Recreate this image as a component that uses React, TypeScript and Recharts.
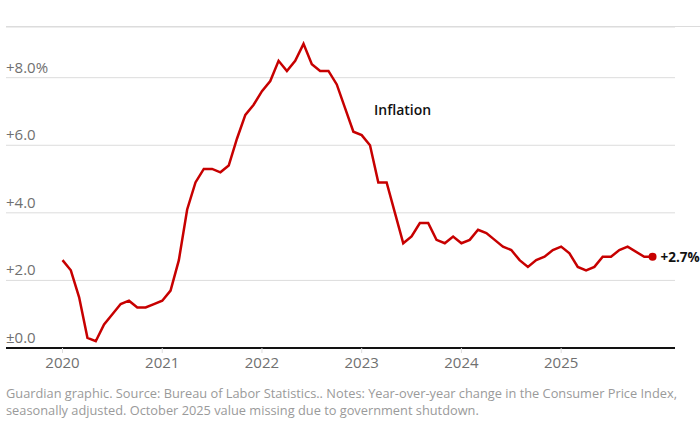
import React from 'react';
import { LineChart, Line, XAxis, YAxis, CartesianGrid } from 'recharts';

// year-over-year CPI change, monthly, Jan 2020 - Dec 2025 (Oct 2025 missing)
const years = ['2020', '2021', '2022', '2023', '2024', '2025'];
const infl2020 = [2.6, 2.3, 1.5, 0.3, 0.2, 0.7, 1.0, 1.3, 1.4, 1.2, 1.2, 1.3];
const infl2021 = [1.4, 1.7, 2.6, 4.1, 4.9, 5.3, 5.3, 5.2, 5.4, 6.2, 6.9, 7.2];
const infl2022 = [7.6, 7.9, 8.5, 8.2, 8.5, 9.0, 8.4, 8.2, 8.2, 7.8, 7.1, 6.4];
const infl2023 = [6.3, 6.0, 4.9, 4.9, 4.0, 3.1, 3.3, 3.7, 3.7, 3.2, 3.1, 3.3];
const infl2024 = [3.1, 3.2, 3.5, 3.4, 3.2, 3.0, 2.9, 2.6, 2.4, 2.6, 2.7, 2.9];
const infl2025 = [3.0, 2.8, 2.4, 2.3, 2.4, 2.7, 2.7, 2.9, 3.0, null, 2.7, 2.7];

const yTicks = [0, 2, 4, 6, 8];
const yearTicks = [0, 12, 24, 36, 48, 60];

const data = [infl2020, infl2021, infl2022, infl2023, infl2024, infl2025]
  .flat()
  .map((v, i) => ({ i, value: v }));

const lastIdx = data.length - 1;
const RED = '#c70000';
const FONT = '"Open Sans", "Noto Sans", sans-serif';

const fmtY = (v: number) => (v === 0 ? '±0.0' : v === 8 ? '+8.0%' : `+${v.toFixed(1)}`);

const renderYTick = (props: any) => {
  const { y, payload } = props;
  return (
    <text key={`yt${payload.value}`} x={6} y={y - 5} fill="#707070" fontSize={15} fontFamily={FONT} textAnchor="start">
      {fmtY(payload.value)}
    </text>
  );
};

const EndDot = (props: any) => {
  const { cx, cy, index, payload } = props;
  if (index !== lastIdx || cx == null) return <g key={`d${index}`} />;
  return (
    <g key={`d${index}`}>
      <circle cx={cx} cy={cy} r={4} fill={RED} />
      <text x={cx + 8} y={cy + 5} fontSize={13.5} fontWeight={700} fill="#121212" fontFamily={FONT}>
        {`+${payload.value.toFixed(1)}%`}
      </text>
    </g>
  );
};

export default function App() {
  return (
    <div style={{ position: 'absolute', left: 0, top: 0, width: 700, height: 427, background: '#fff', overflow: 'hidden', fontFamily: FONT }}>
      <div style={{ position: 'absolute', left: 6, right: 0, top: 26, borderTop: '1px solid #dcdcdc' }} />
      <LineChart width={700} height={378} data={data} margin={{ top: 27, right: 25, left: 5, bottom: 0 }}>
        <CartesianGrid horizontal vertical={false} stroke="#dcdcdc" />
        <XAxis
          dataKey="i"
          type="number"
          domain={[-6.8, 73.7]}
          ticks={yearTicks}
          tickFormatter={(v: number) => years[v / 12]}
          height={30}
          tickSize={5}
          tickMargin={4}
          axisLine={{ stroke: '#121212', strokeWidth: 2 }}
          tickLine={{ stroke: '#dcdcdc' }}
          tick={{ fill: '#707070', fontSize: 15, fontFamily: FONT }}
        />
        <YAxis
          width={1}
          domain={[0, 9.5]}
          ticks={yTicks}
          axisLine={false}
          tickLine={false}
          tick={renderYTick}
        />
        <Line
          type="linear"
          dataKey="value"
          stroke={RED}
          strokeWidth={2.5}
          connectNulls
          dot={EndDot}
          activeDot={false}
          isAnimationActive={false}
        />
      </LineChart>
      <div style={{ position: 'absolute', left: 374, top: 100, fontSize: 14, fontWeight: 600, color: '#121212' }}>Inflation</div>
      <div style={{ position: 'absolute', left: 6, top: 385, fontSize: 12.8, lineHeight: '17px', color: '#9a9a9a', whiteSpace: 'nowrap' }}>
        <div>Guardian graphic. Source: Bureau of Labor Statistics.. Notes: Year-over-year change in the Consumer Price Index,</div>
        <div>seasonally adjusted. October 2025 value missing due to government shutdown.</div>
      </div>
    </div>
  );
}
